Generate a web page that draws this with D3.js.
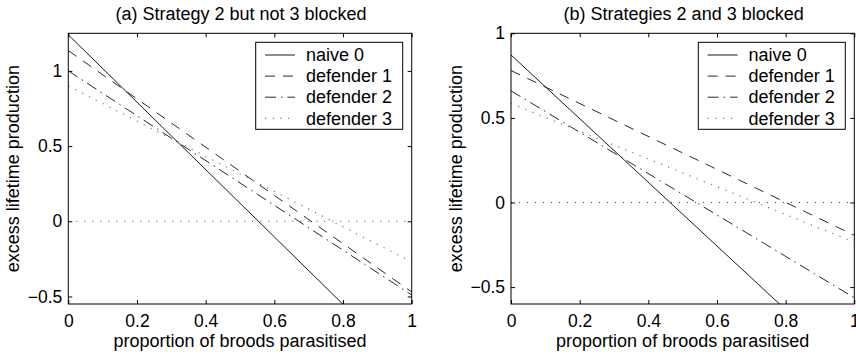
<!DOCTYPE html>
<html>
<head>
<meta charset="utf-8">
<script src="https://cdn.jsdelivr.net/npm/d3@7"></script>
<style>
  body { margin: 0; background: #fff; }
  svg text { font-family: "Liberation Sans", Arial, Helvetica, sans-serif; fill: #000; }
</style>
</head>
<body>
<div id="chart"></div>
<script>
// data: straight lines, value at x = 0 and x = 1
var xEnds = [0, 1];
var seriesNames = ["naive 0", "defender 1", "defender 2", "defender 3"];
var titleA = "(a) Strategy 2 but not 3 blocked";
var titleB = "(b) Strategies 2 and 3 blocked";
var valuesA = [[1.24, -1.0], [1.135, -0.47], [1.0, -0.49], [0.9, -0.27]];
var valuesB = [[0.872, -1.01], [0.78, -0.194], [0.66, -0.563], [0.585, -0.235]];
var xTicks = [0, 0.2, 0.4, 0.6, 0.8, 1];
var yTicks = [-0.5, 0, 0.5, 1];
var yDomainA = [-0.55, 1.25];
var yDomainB = [-0.6, 1];
var xLabel = "proportion of broods parasitised";
var yLabel = "excess lifetime production";

var dashes = [null, "10,8", "11,5,1.5,5", "1.2,6.5"];
var strokes = ["#000", "#111", "#111", "#777"];

var svg = d3.select("#chart").append("svg").attr("width", 856).attr("height", 358);

var fmt = function(d) { return d < 0 ? "\u2212" + Math.abs(d) : String(d); };

function drawPanel(id, left, right, vals, yDom, title) {
  var top = 33.3, bottom = 304;
  var x = d3.scaleLinear().domain([0, 1]).range([left, right]);
  var y = d3.scaleLinear().domain(yDom).range([bottom, top]);
  var g = svg.append("g");

  g.append("clipPath").attr("id", "clip" + id)
    .append("rect").attr("x", left).attr("y", top).attr("width", right - left).attr("height", bottom - top);

  // zero reference line
  g.append("line")
    .attr("x1", x(0)).attr("x2", x(1)).attr("y1", y(0)).attr("y2", y(0))
    .attr("stroke", "#444").attr("stroke-width", 1).attr("stroke-dasharray", "1,7");

  var line = d3.line().x(function(d) { return x(d[0]); }).y(function(d) { return y(d[1]); });
  var lines = g.append("g").attr("clip-path", "url(#clip" + id + ")");
  vals.forEach(function(v, i) {
    lines.append("path")
      .datum(xEnds.map(function(xx, k) { return [xx, v[k]]; }))
      .attr("d", line)
      .attr("fill", "none")
      .attr("stroke", strokes[i])
      .attr("stroke-width", i == 3 ? 1.2 : 0.9)
      .attr("stroke-dasharray", dashes[i]);
  });

  // axes, ticks inward on all four sides
  g.append("g").attr("transform", "translate(0," + bottom + ")")
    .call(d3.axisBottom(x).tickValues(xTicks).tickSize(-4).tickPadding(11).tickFormat(fmt));
  g.append("g").attr("transform", "translate(" + left + ",0)")
    .call(d3.axisLeft(y).tickValues(yTicks).tickSize(-4).tickPadding(6).tickFormat(fmt));
  g.append("g").attr("transform", "translate(0," + top + ")")
    .call(d3.axisTop(x).tickValues(xTicks).tickSize(-4).tickFormat(""));
  g.append("g").attr("transform", "translate(" + right + ",0)")
    .call(d3.axisRight(y).tickValues(yTicks).tickSize(-4).tickFormat(""));
  g.selectAll(".domain").remove();
  g.selectAll(".tick line").attr("stroke", "#000");
  g.selectAll(".tick text").style("font-size", "17.5px").attr("fill", "#000");

  g.append("rect")
    .attr("x", left).attr("y", top).attr("width", right - left).attr("height", bottom - top)
    .attr("fill", "none").attr("stroke", "#000").attr("stroke-width", 1);

  g.append("text")
    .attr("x", (left + right) / 2 + 1).attr("y", 20)
    .attr("text-anchor", "middle").style("font-size", "18px")
    .text(title);

  g.append("text")
    .attr("x", (left + right) / 2).attr("y", 347)
    .attr("text-anchor", "middle").style("font-size", "18px")
    .text(xLabel);

  g.append("text")
    .attr("transform", "translate(" + (left - 49.5) + "," + ((top + bottom) / 2) + ") rotate(-90)")
    .attr("text-anchor", "middle").style("font-size", "18px")
    .text(yLabel);

  // legend
  var lw = 147, lh = 87;
  var lx = right - 9 - lw, ly = top + 9;
  var leg = g.append("g").attr("transform", "translate(" + lx + "," + ly + ")");
  leg.append("rect").attr("width", lw).attr("height", lh)
    .attr("fill", "#fff").attr("stroke", "#000").attr("stroke-width", 1);
  seriesNames.forEach(function(name, i) {
    var cy = 12.7 + i * 21.1;
    leg.append("line")
      .attr("x1", 9.3).attr("x2", 39.3).attr("y1", cy).attr("y2", cy)
      .attr("stroke", strokes[i]).attr("stroke-width", i == 3 ? 1.2 : 0.9)
      .attr("stroke-dasharray", dashes[i]);
    leg.append("text")
      .attr("x", 50.3).attr("y", cy).attr("dy", "0.35em")
      .style("font-size", "18px")
      .text(name);
  });
}

drawPanel("a", 68.3, 411.7, valuesA, yDomainA, titleA);
drawPanel("b", 511, 854.3, valuesB, yDomainB, titleB);
</script>
</body>
</html>
